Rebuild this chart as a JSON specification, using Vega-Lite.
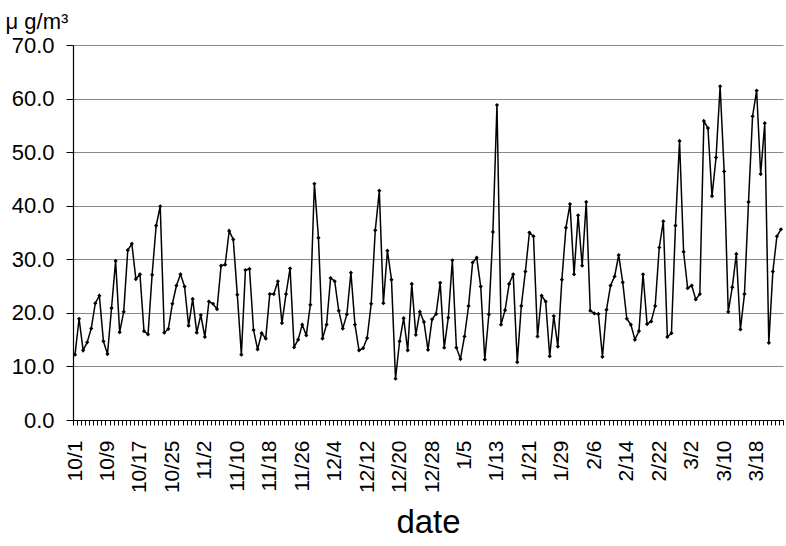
{
  "$schema": "https://vega.github.io/schema/vega-lite/v6.json",
  "width": 710,
  "height": 375,
  "autosize": {"type": "none"},
  "padding": {"left": 73, "top": 45, "right": 3, "bottom": 126},
  "background": "white",
  "config": {"view": {"stroke": null}, "font": "Liberation Sans"},
  "data": {"values": [
    {"date":"10/1","v":12.2},{"date":"10/2","v":18.9},{"date":"10/3","v":13.0},{"date":"10/4","v":14.5},{"date":"10/5","v":17.1},{"date":"10/6","v":21.8},{"date":"10/7","v":23.2},{"date":"10/8","v":14.7},{"date":"10/9","v":12.3},{"date":"10/10","v":20.9},{"date":"10/11","v":29.7},{"date":"10/12","v":16.4},{"date":"10/13","v":20.2},{"date":"10/14","v":31.7},{"date":"10/15","v":32.9},{"date":"10/16","v":26.3},{"date":"10/17","v":27.2},{"date":"10/18","v":16.6},{"date":"10/19","v":16.0},{"date":"10/20","v":27.1},{"date":"10/21","v":36.3},{"date":"10/22","v":39.9},{"date":"10/23","v":16.3},{"date":"10/24","v":17.0},{"date":"10/25","v":21.7},{"date":"10/26","v":25.1},{"date":"10/27","v":27.2},{"date":"10/28","v":24.9},{"date":"10/29","v":17.6},{"date":"10/30","v":22.6},{"date":"10/31","v":16.3},
    {"date":"11/1","v":19.6},{"date":"11/2","v":15.5},{"date":"11/3","v":22.1},{"date":"11/4","v":21.7},{"date":"11/5","v":20.7},{"date":"11/6","v":28.8},{"date":"11/7","v":29.0},{"date":"11/8","v":35.3},{"date":"11/9","v":33.7},{"date":"11/10","v":23.4},{"date":"11/11","v":12.2},{"date":"11/12","v":28.0},{"date":"11/13","v":28.2},{"date":"11/14","v":16.8},{"date":"11/15","v":13.2},{"date":"11/16","v":16.2},{"date":"11/17","v":15.2},{"date":"11/18","v":23.5},{"date":"11/19","v":23.5},{"date":"11/20","v":25.9},{"date":"11/21","v":18.1},{"date":"11/22","v":23.5},{"date":"11/23","v":28.3},{"date":"11/24","v":13.6},{"date":"11/25","v":15.0},{"date":"11/26","v":17.8},{"date":"11/27","v":15.8},{"date":"11/28","v":21.5},{"date":"11/29","v":44.1},{"date":"11/30","v":34.0},
    {"date":"12/1","v":15.2},{"date":"12/2","v":17.8},{"date":"12/3","v":26.5},{"date":"12/4","v":25.9},{"date":"12/5","v":20.4},{"date":"12/6","v":17.1},{"date":"12/7","v":19.7},{"date":"12/8","v":27.5},{"date":"12/9","v":17.8},{"date":"12/10","v":13.0},{"date":"12/11","v":13.4},{"date":"12/12","v":15.3},{"date":"12/13","v":21.7},{"date":"12/14","v":35.4},{"date":"12/15","v":42.8},{"date":"12/16","v":21.8},{"date":"12/17","v":31.6},{"date":"12/18","v":26.2},{"date":"12/19","v":7.7},{"date":"12/20","v":14.7},{"date":"12/21","v":19.0},{"date":"12/22","v":13.0},{"date":"12/23","v":25.4},{"date":"12/24","v":15.9},{"date":"12/25","v":20.2},{"date":"12/26","v":18.3},{"date":"12/27","v":13.1},{"date":"12/28","v":18.8},{"date":"12/29","v":19.8},{"date":"12/30","v":25.6},{"date":"12/31","v":13.5},
    {"date":"1/1","v":19.1},{"date":"1/2","v":29.8},{"date":"1/3","v":13.5},{"date":"1/4","v":11.4},{"date":"1/5","v":15.6},{"date":"1/6","v":21.3},{"date":"1/7","v":29.4},{"date":"1/8","v":30.3},{"date":"1/9","v":24.9},{"date":"1/10","v":11.3},{"date":"1/11","v":19.7},{"date":"1/12","v":35.1},{"date":"1/13","v":58.8},{"date":"1/14","v":17.8},{"date":"1/15","v":20.5},{"date":"1/16","v":25.4},{"date":"1/17","v":27.2},{"date":"1/18","v":10.8},{"date":"1/19","v":21.3},{"date":"1/20","v":27.7},{"date":"1/21","v":35.0},{"date":"1/22","v":34.3},{"date":"1/23","v":15.6},{"date":"1/24","v":23.2},{"date":"1/25","v":22.1},{"date":"1/26","v":11.9},{"date":"1/27","v":19.4},{"date":"1/28","v":13.7},{"date":"1/29","v":26.2},{"date":"1/30","v":35.9},{"date":"1/31","v":40.3},
    {"date":"2/1","v":27.2},{"date":"2/2","v":38.2},{"date":"2/3","v":28.8},{"date":"2/4","v":40.7},{"date":"2/5","v":20.4},{"date":"2/6","v":19.9},{"date":"2/7","v":19.8},{"date":"2/8","v":11.8},{"date":"2/9","v":20.6},{"date":"2/10","v":25.1},{"date":"2/11","v":26.8},{"date":"2/12","v":30.8},{"date":"2/13","v":25.7},{"date":"2/14","v":18.9},{"date":"2/15","v":17.8},{"date":"2/16","v":15.0},{"date":"2/17","v":16.6},{"date":"2/18","v":27.2},{"date":"2/19","v":17.9},{"date":"2/20","v":18.4},{"date":"2/21","v":21.3},{"date":"2/22","v":32.2},{"date":"2/23","v":37.1},{"date":"2/24","v":15.5},{"date":"2/25","v":16.2},{"date":"2/26","v":36.3},{"date":"2/27","v":52.1},{"date":"2/28","v":31.4},
    {"date":"3/1","v":24.6},{"date":"3/2","v":25.1},{"date":"3/3","v":22.5},{"date":"3/4","v":23.5},{"date":"3/5","v":55.8},{"date":"3/6","v":54.5},{"date":"3/7","v":41.8},{"date":"3/8","v":49.0},{"date":"3/9","v":62.3},{"date":"3/10","v":46.4},{"date":"3/11","v":20.2},{"date":"3/12","v":24.8},{"date":"3/13","v":31.0},{"date":"3/14","v":16.9},{"date":"3/15","v":23.5},{"date":"3/16","v":40.7},{"date":"3/17","v":56.7},{"date":"3/18","v":61.5},{"date":"3/19","v":45.9},{"date":"3/20","v":55.4},{"date":"3/21","v":14.4},{"date":"3/22","v":27.7},{"date":"3/23","v":34.3},{"date":"3/24","v":35.6}
  ]},
  "mark": {
    "type": "line",
    "color": "black",
    "strokeWidth": 1.5,
    "point": {"shape": "diamond", "size": 18, "filled": true, "color": "black"}
  },
  "encoding": {
    "x": {
      "field": "date",
      "type": "ordinal",
      "sort": null,
      "bandPosition": 0.5,
      "scale": {"type": "band", "paddingInner": 0, "paddingOuter": 0},
      "axis": {
        "title": "date",
        "titleFontSize": 33,
        "titleFontWeight": "normal",
        "titleColor": "black",
        "titlePadding": 14,
        "labelExpr": "indexof(['10/1','10/9','10/17','10/25','11/2','11/10','11/18','11/26','12/4','12/12','12/20','12/28','1/5','1/13','1/21','1/29','2/6','2/14','2/22','3/2','3/10','3/18'], datum.value) >= 0 ? datum.value : ''",
        "labelOverlap": false,
        "labelAngle": 270,
        "labelAlign": "right",
        "labelBaseline": "middle",
        "labelFontSize": 21,
        "labelColor": "black",
        "labelPadding": 15,
        "tickBand": "extent",
        "tickSize": 5,
        "tickColor": "black",
        "domainColor": "black",
        "domainWidth": 1.2,
        "grid": false
      }
    },
    "y": {
      "field": "v",
      "type": "quantitative",
      "scale": {"domain": [0, 70], "nice": false},
      "axis": {
        "title": "μ g/m³",
        "titleAngle": 0,
        "titleAlign": "left",
        "titleBaseline": "alphabetic",
        "titleX": -68,
        "titleY": -17,
        "titleFontSize": 22,
        "titleFontWeight": "normal",
        "titleColor": "black",
        "values": [0, 10, 20, 30, 40, 50, 60, 70],
        "format": ".1f",
        "labelFontSize": 22,
        "labelColor": "black",
        "labelPadding": 12,
        "tickSize": 7,
        "tickColor": "black",
        "domainColor": "black",
        "domainWidth": 1.2,
        "grid": true,
        "gridColor": "#888888",
        "gridWidth": 1
      }
    }
  }
}
